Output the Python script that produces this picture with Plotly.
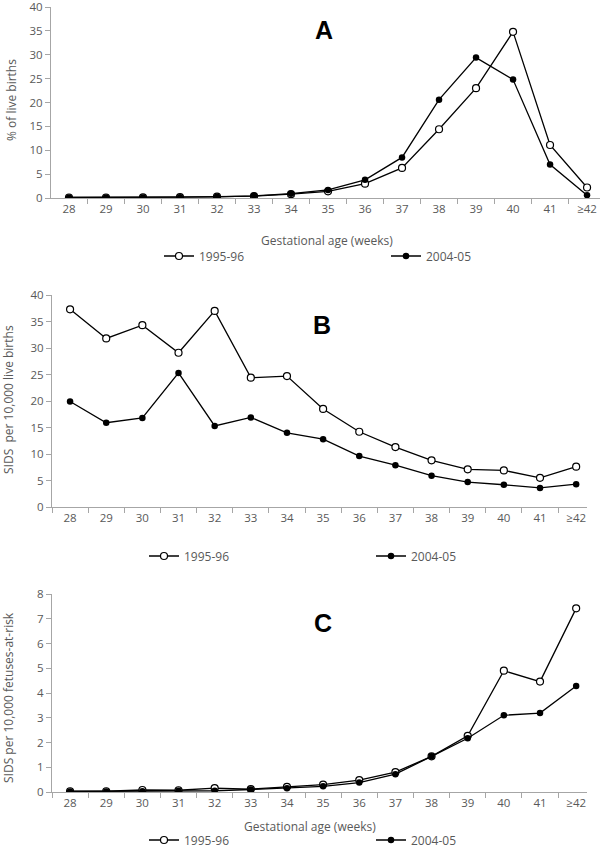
import plotly.graph_objects as go

weeks = ["28", "29", "30", "31", "32", "33", "34", "35", "36", "37", "38", "39", "40", "41", "≥42"]

a_1995 = [0.1, 0.1, 0.15, 0.2, 0.3, 0.4, 0.8, 1.4, 3.0, 6.3, 14.4, 23.0, 34.8, 11.1, 2.2]
a_2004 = [0.1, 0.1, 0.1, 0.15, 0.25, 0.45, 0.9, 1.7, 3.8, 8.5, 20.6, 29.4, 24.8, 7.0, 0.6]

b_1995 = [37.3, 31.8, 34.3, 29.1, 37.0, 24.4, 24.7, 18.5, 14.2, 11.3, 8.8, 7.1, 6.9, 5.5, 7.6]
b_2004 = [19.9, 15.9, 16.8, 25.3, 15.3, 16.9, 14.0, 12.8, 9.6, 7.9, 5.9, 4.7, 4.2, 3.6, 4.3]

c_1995 = [0.03, 0.03, 0.08, 0.07, 0.16, 0.12, 0.21, 0.3, 0.48, 0.8, 1.44, 2.27, 4.9, 4.46, 7.42]
c_2004 = [0.02, 0.02, 0.03, 0.05, 0.05, 0.1, 0.15, 0.23, 0.38, 0.72, 1.44, 2.17, 3.1, 3.19, 4.28]

series_names = ["1995-96", "2004-05"]
panel_letters = ["A", "B", "C"]
y_titles = ["% of live births", "SIDS  per 10,000 live births", "SIDS per 10,000 fetuses-at-risk"]
x_title = "Gestational age (weeks)"

W, H = 600, 850
FONT = "Open Sans"
GREY = "#595959"
AXIS = "#a6a6a6"

def px_x(p):
    return p / W

def px_y(p):
    return 1 - p / H

fig = go.Figure()

panels = [
    (a_1995, a_2004, "x", "y", "legend"),
    (b_1995, b_2004, "x2", "y2", "legend2"),
    (c_1995, c_2004, "x3", "y3", "legend3"),
]

for s95, s04, xa, ya, lg in panels:
    fig.add_trace(go.Scatter(
        x=weeks, y=s95, name=series_names[0], xaxis=xa, yaxis=ya, legend=lg,
        mode="lines+markers",
        line=dict(color="black", width=1.3),
        marker=dict(symbol="circle", size=7, color="white", line=dict(color="black", width=1.2)),
    ))
    fig.add_trace(go.Scatter(
        x=weeks, y=s04, name=series_names[1], xaxis=xa, yaxis=ya, legend=lg,
        mode="lines+markers",
        line=dict(color="black", width=1.3),
        marker=dict(symbol="circle", size=6.5, color="black", line=dict(color="black", width=0)),
    ))

common_x = dict(
    type="category", tickson="boundaries", ticks="outside", ticklen=5, tickcolor=AXIS,
    showline=True, linecolor=AXIS, linewidth=1, showgrid=False, zeroline=False,
    tickfont=dict(family=FONT, size=11.5, color=GREY), ticklabeloverflow="allow",
)
common_y = dict(
    ticks="outside", ticklen=5, tickcolor=AXIS, showline=True, linecolor=AXIS, linewidth=1,
    showgrid=False, zeroline=False, tickfont=dict(family=FONT, size=11.5, color=GREY),
    ticklabeloverflow="allow",
)

fig.update_layout(
    width=W, height=H, margin=dict(l=0, r=0, t=0, b=0, autoexpand=False),
    paper_bgcolor="white", plot_bgcolor="white",
    xaxis=dict(common_x, domain=[px_x(51), 1.0], range=[-0.486, 14.35], anchor="y"),
    yaxis=dict(common_y, domain=[px_y(198), px_y(7)], range=[0, 40], dtick=5, anchor="x"),
    xaxis2=dict(common_x, domain=[px_x(52), px_x(587)], range=[-0.5, 14.3], anchor="y2"),
    yaxis2=dict(common_y, domain=[px_y(507), px_y(295)], range=[0, 40], dtick=5, anchor="x2"),
    xaxis3=dict(common_x, domain=[px_x(52), px_x(587)], range=[-0.5, 14.3], anchor="y3"),
    yaxis3=dict(common_y, domain=[px_y(792), px_y(594)], range=[0, 8], dtick=1, anchor="x3"),
    showlegend=True,
)

leg_common = dict(orientation="h", xanchor="left", yanchor="middle", entrywidth=182,
                  entrywidthmode="pixels", font=dict(family=FONT, size=12, color=GREY),
                  bgcolor="rgba(0,0,0,0)", itemclick=False)
fig.update_layout(
    legend=dict(leg_common, x=px_x(159), y=px_y(256)),
    legend2=dict(leg_common, x=px_x(144), y=px_y(556)),
    legend3=dict(leg_common, x=px_x(144), y=px_y(840)),
)

letters_pos = [(324, 30), (322, 325), (323, 623)]
for letter, (lx, ly) in zip(panel_letters, letters_pos):
    fig.add_annotation(text="<b>" + letter + "</b>", x=px_x(lx), y=px_y(ly), xref="paper", yref="paper",
                       showarrow=False, font=dict(family="Liberation Sans", size=25, color="black"),
                       xanchor="center", yanchor="middle")

ytitle_pos = [(11, 100), (8, 400), (8, 698)]
for t, (tx, ty) in zip(y_titles, ytitle_pos):
    fig.add_annotation(text=t, x=px_x(tx), y=px_y(ty), xref="paper", yref="paper", textangle=-90,
                       showarrow=False, font=dict(family=FONT, size=12, color=GREY),
                       xanchor="center", yanchor="middle")

for tx, ty in [(327, 240), (310, 826)]:
    fig.add_annotation(text=x_title, x=px_x(tx), y=px_y(ty), xref="paper", yref="paper",
                       showarrow=False, font=dict(family=FONT, size=12, color=GREY),
                       xanchor="center", yanchor="middle")

fig.write_html("out.html", config={"displayModeBar": False},
               post_script="document.body.style.margin='0px';")
